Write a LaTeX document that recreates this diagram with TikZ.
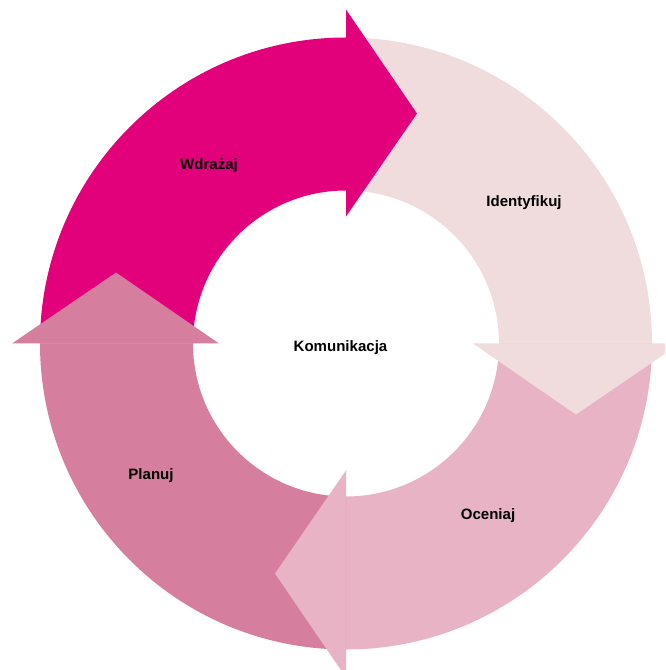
\documentclass[tikz,border=0pt]{standalone}
\usepackage{fontspec}
\setmainfont{Liberation Sans}
\usepackage{tikz}
\usetikzlibrary{calc}
\definecolor{wdrazaj}{HTML}{E3007B}
\definecolor{identyfikuj}{HTML}{F1DCDD}
\definecolor{oceniaj}{HTML}{E8B4C5}
\definecolor{planuj}{HTML}{D67E9D}
\tikzset{every node/.style={font=\bfseries\fontsize{10.7}{12}\selectfont}}

\begin{document}
\begin{tikzpicture}[x=0.025cm, y=0.025cm]
	\useasboundingbox (-346,-326.5) rectangle (319,343.5);
	\clip (-346,-326.5) rectangle (319,343.5);
	\coordinate (o) at (0,0);

% bodies of the arrows

	% Wdrazaj
	\fill[wdrazaj] (180:306) arc [start angle=180, end angle=90, radius=306] -- (90:153) arc [start angle=90, end angle=180, radius=153] -- cycle;
	% Identyfikuj
	\fill[identyfikuj] (90:306) arc [start angle=90, end angle=0, radius=306] -- (0:153) arc [start angle=0, end angle=90, radius=153] -- cycle;
	% Oceniaj
	\fill[oceniaj] (0:306) arc [start angle=0, end angle=-90, radius=306] -- (-90:153) arc [start angle=-90, end angle=0, radius=153] -- cycle;
	% Planuj
	\fill[planuj] (-90:306) arc [start angle=-90, end angle=-180, radius=306] -- (-180:153) arc [start angle=-180, end angle=-90, radius=153] -- cycle;

% heads

	\fill[wdrazaj] (90:334) -- (71,230) -- (90:127) -- cycle;
	\fill[identyfikuj] (0:334) -- (230,-71) -- (0:127) -- cycle;
	\fill[oceniaj] (-90:334) -- (-71,-230) -- (-90:127) -- cycle;
	\fill[planuj] (180:334) -- (-230,71) -- (180:127) -- cycle;

% labels

	\node (wdr) at (-137,178) {Wdrażaj};
	\node (ide) at (178,140.5) {Identyfikuj};
	\node (oce) at (142,-172) {Oceniaj};
	\node (pla) at (-195,-132.5) {Planuj};
	\node (kom) at (-5.5,-4.5) {Komunikacja};

\end{tikzpicture}
\end{document}
